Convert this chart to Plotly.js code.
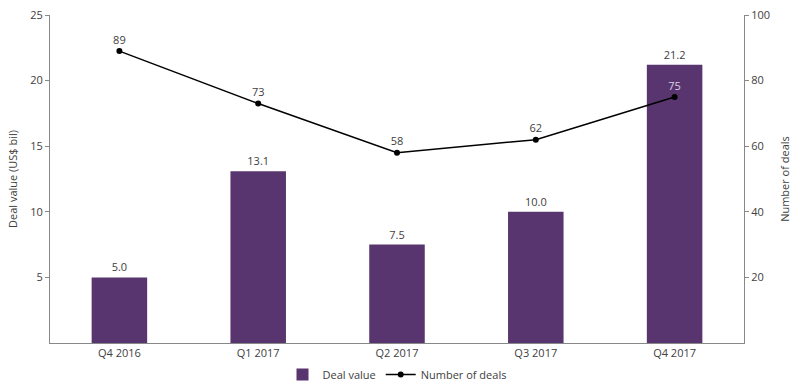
<!DOCTYPE html>
<html><head><meta charset="utf-8">
<script src="https://cdn.plot.ly/plotly-3.0.1.min.js"></script>
<style>html,body{margin:0;padding:0;background:#fff}</style>
</head><body><div id="chart" style="width:800px;height:389px"></div>
<script>
const categories = ["Q4 2016", "Q1 2017", "Q2 2017", "Q3 2017", "Q4 2017"];
const dealValue = [5.0, 13.1, 7.5, 10.0, 21.2];
const numDeals = [89, 73, 58, 62, 75];
const dealLabelColors = ["#404040", "#404040", "#404040", "#404040", "#d9d0e3"];

const font = "'Open Sans', 'Noto Sans', sans-serif";
const traces = [
  {
    type: "bar", name: "Deal value", x: categories, y: dealValue,
    marker: {color: "#59356f"}, width: 0.4,
    text: dealValue.map(v => v.toFixed(1)), textposition: "outside",
    textfont: {color: "#404040", size: 11, family: font}, cliponaxis: false,
    hoverinfo: "skip"
  },
  {
    type: "scatter", mode: "lines+markers+text", name: "Number of deals",
    x: categories, y: numDeals, yaxis: "y2",
    line: {color: "#000", width: 1.5}, marker: {color: "#000", size: 6},
    text: numDeals.map(String), textposition: "top center",
    textfont: {color: dealLabelColors, size: 11, family: font}, cliponaxis: false,
    hoverinfo: "skip"
  }
];
const layout = {
  width: 800, height: 389,
  margin: {l: 50, r: 56, t: 15, b: 46, autoexpand: false},
  paper_bgcolor: "#fff", plot_bgcolor: "#fff",
  font: {family: font, size: 11, color: "#404040"},
  showlegend: true,
  legend: {orientation: "h", x: 0.5, xanchor: "center", yref: "container", y: 0, yanchor: "bottom",
           font: {size: 11, color: "#404040"}, traceorder: "normal", itemwidth: 30},
  bargap: 0.6,
  xaxis: {showline: true, linecolor: "#888", linewidth: 1, ticks: "", showgrid: false,
          tickfont: {size: 11, color: "#404040"}, zeroline: false},
  yaxis: {range: [0, 25], tickvals: [5, 10, 15, 20, 25], showline: true, linecolor: "#888",
          ticks: "outside", ticklen: 4, tickcolor: "#888", showgrid: false, zeroline: false,
          title: {text: "Deal value (US$ bil)", font: {size: 11, color: "#404040"}, standoff: 10},
          tickfont: {size: 11, color: "#404040"}},
  yaxis2: {range: [0, 100], tickvals: [20, 40, 60, 80, 100], overlaying: "y", side: "right",
           showline: true, linecolor: "#888", ticks: "outside", ticklen: 4, tickcolor: "#888",
           showgrid: false, zeroline: false,
           title: {text: "Number of deals", font: {size: 11, color: "#404040"}, standoff: 12},
           tickfont: {size: 11, color: "#404040"}}
};
Plotly.newPlot("chart", traces, layout, {displayModeBar: false, staticPlot: true});
</script></body></html>
